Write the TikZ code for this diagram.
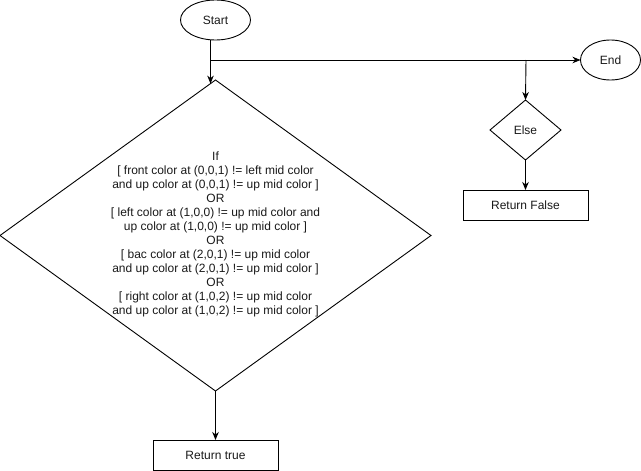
\documentclass[tikz,border=0pt]{standalone}
\usepackage{fontspec}
\setmainfont{Liberation Sans}
\usetikzlibrary{shapes.geometric,arrows.meta}
\begin{document}
\begin{tikzpicture}[x=1pt,y=-1pt,
  every node/.style={font=\fontsize{12}{14}\selectfont, text=black!90},
  shp/.style={draw=black, line width=0.9pt, outer sep=0pt, inner sep=0pt},
  term/.style={shp, ellipse, minimum width=#1, minimum height=40pt},
  decision/.style={shp, diamond},
  proc/.style={shp, rectangle, minimum width=125pt, minimum height=30pt},
  conn/.style={line width=0.9pt, draw=black},
  arr/.style={conn, -{Stealth[length=8pt,width=6.5pt,inset=2.5pt]}}
]
\useasboundingbox (0,0) rectangle (641,471);

% terminals
\node[term=70pt] (start) at (215.5,20) {Start};
\node[term=60pt] (end) at (610.5,60) {End};

% main condition
\node[decision, minimum width=431pt, minimum height=311pt] (if) at (215.5,235.5) {};
\node[align=center] (iftext) at (215.5,234.5) {If\\
{[} front color at (0,0,1) != left mid color\\
and up color at (0,0,1) != up mid color {]}\\
OR\\
{[} left color at (1,0,0) != up mid color and\\
up color at (1,0,0) != up mid color {]}\\
OR\\
{[} bac color at (2,0,1) != up mid color\\
and up color at (2,0,1) != up mid color {]}\\
OR\\
{[} right color at (1,0,2) != up mid color\\
and up color at (1,0,2) != up mid color {]}};

% else branch
\node[decision, minimum width=71pt, minimum height=60pt] (else) at (525.5,130) {};
\node (elsetext) at (525.5,130) {Else};

% results
\node[proc] (rfalse) at (525.5,205) {Return False};
\node[proc] (rtrue) at (215.5,455) {Return true};

% junction points on the path to End
\coordinate (j1) at (210.5,60);
\coordinate (j2) at (526,60);

% connectors
\draw[arr] ([xshift=-5pt]start.south) -- ([xshift=-5pt,yshift=-3.6pt]if.north);
\draw[arr] (j1) -- (end.west);
\draw[arr] (j2) -- (else.north);
\draw[arr] (else.south) -- (rfalse.north);
\draw[arr] (if.south) -- (rtrue.north);
\end{tikzpicture}
\end{document}
